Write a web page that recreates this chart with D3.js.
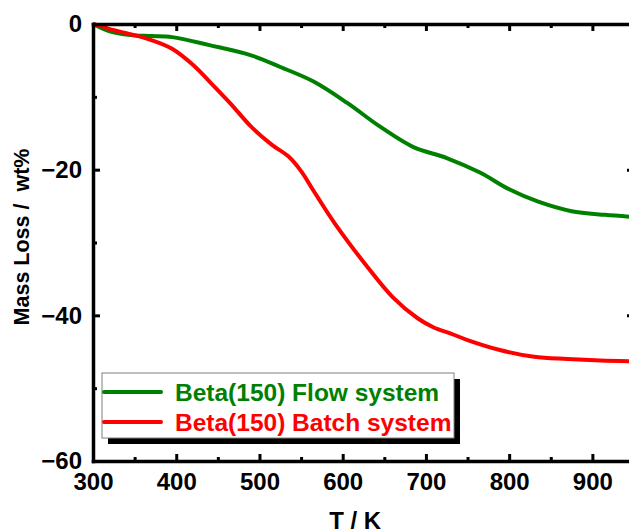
<!DOCTYPE html>
<html>
<head>
<meta charset="utf-8">
<script src="https://cdn.jsdelivr.net/npm/d3@7"></script>
<style>
  body { margin: 0; background: #fff; }
  svg { display: block; font-family: Arial, "Liberation Sans", sans-serif; font-weight: bold; }
</style>
</head>
<body>
<script>
(function (d3) {
    'use strict';

    // series (T in K, mass loss in wt%)
    var flowT    = [300, 320, 345, 370, 395, 440, 490, 525, 565, 605, 645, 685, 725, 765, 800, 835, 875, 915, 950];
    var flowLoss = [0, -1.0, -1.5, -1.65, -1.8, -2.9, -4.3, -5.9, -7.9, -10.8, -14.1, -16.9, -18.4, -20.4, -22.7, -24.4, -25.7, -26.2, -26.5];

    var batchT    = [300, 310, 320, 345, 370, 395, 420, 440, 465, 490, 515, 535, 550, 565, 590, 630, 660, 690, 710, 730, 750, 790, 830, 870, 910, 950];
    var batchLoss = [0, -0.3, -0.7, -1.4, -2.2, -3.4, -5.6, -7.9, -10.9, -14.1, -16.6, -18.2, -20.2, -22.9, -27.3, -33.4, -37.5, -40.4, -41.7, -42.5, -43.4, -44.8, -45.7, -46.0, -46.2, -46.3];

    var seriesNames = ["Beta(150) Flow system", "Beta(150) Batch system"];
    var seriesColors = ["#008000", "#ff0000"];

    var xMajor = [300, 400, 500, 600, 700, 800, 900];
    var xMinor = [350, 450, 550, 650, 750, 850, 950];
    var yMajor = [0, -20, -40, -60];
    var yMinor = [-10, -30, -50];

    const W = 629, H = 531;
    const margin = { top: 24, left: 93 };
    const plotW = 541, plotH = 437;

    var x = d3.scaleLinear().domain([300, 950]).range([0, plotW]);
    var y = d3.scaleLinear().domain([0, -60]).range([0, plotH]);

    var svg = d3.select("body").append("svg")
        .attr("width", W)
        .attr("height", H);

    var g = svg.append("g")
        .attr("transform", "translate(" + margin.left + "," + margin.top + ")");

    var series = [
        { name: seriesNames[0], color: seriesColors[0], pts: flowT.map(function (t, i) { return [t, flowLoss[i]]; }) },
        { name: seriesNames[1], color: seriesColors[1], pts: batchT.map(function (t, i) { return [t, batchLoss[i]]; }) }
    ];

    var line = d3.line()
        .x(function (d) { return x(d[0]); })
        .y(function (d) { return y(d[1]); })
        .curve(d3.curveCatmullRom.alpha(0.5));

    g.selectAll(".curve")
        .data(series)
        .enter().append("path")
        .attr("class", "curve")
        .attr("fill", "none")
        .attr("stroke", function (d) { return d.color; })
        .attr("stroke-width", 4)
        .attr("d", function (d) { return line(d.pts); });

    function styleAxis(sel) {
        sel.select(".domain").attr("stroke", "#000").attr("stroke-width", 3.5).attr("stroke-linecap", "square");
        sel.selectAll(".tick line").attr("stroke", "#000").attr("stroke-width", 3);
        sel.selectAll("text").attr("fill", "#000").attr("font-size", 24).attr("font-weight", "bold")
            .attr("font-family", "Arial, 'Liberation Sans', sans-serif");
    }

    // major axes with labels
    g.append("g")
        .attr("transform", "translate(0," + plotH + ")")
        .call(d3.axisBottom(x).tickValues(xMajor).tickSizeInner(-7).tickSizeOuter(0).tickPadding(12).tickFormat(d3.format("d")))
        .call(styleAxis);

    g.append("g")
        .call(d3.axisLeft(y).tickValues(yMajor).tickSizeInner(-7).tickSizeOuter(0).tickPadding(11).tickFormat(d3.format("d")))
        .call(styleAxis);

    // mirrored axes
    g.append("g")
        .call(d3.axisTop(x).tickValues(xMajor).tickSizeInner(-7).tickSizeOuter(0).tickFormat(""))
        .call(styleAxis);

    g.append("g")
        .attr("transform", "translate(" + plotW + ",0)")
        .call(d3.axisRight(y).tickValues(yMajor).tickSizeInner(-7).tickSizeOuter(0).tickFormat(""))
        .call(styleAxis);

    // minor ticks
    [
        { ax: d3.axisBottom(x).tickValues(xMinor), tr: "translate(0," + plotH + ")" },
        { ax: d3.axisTop(x).tickValues(xMinor), tr: null },
        { ax: d3.axisLeft(y).tickValues(yMinor), tr: null },
        { ax: d3.axisRight(y).tickValues(yMinor), tr: "translate(" + plotW + ",0)" }
    ].forEach(function (m) {
        var a = g.append("g").attr("transform", m.tr)
            .call(m.ax.tickSizeInner(-4).tickSizeOuter(0).tickFormat(""))
            .call(styleAxis);
        a.select(".domain").remove();
    });

    // axis titles
    svg.append("text")
        .attr("x", margin.left + x(615))
        .attr("y", 529)
        .attr("text-anchor", "middle")
        .attr("font-size", 24)
        .text("T / K");

    svg.append("text")
        .attr("transform", "translate(28.5,237) rotate(-90)")
        .attr("text-anchor", "middle")
        .attr("font-size", 21.5)
        .style("white-space", "pre")
        .text("Mass Loss /  wt%");

    // legend with drop shadow
    var lg = svg.append("g").attr("transform", "translate(102,373)");
    lg.append("rect")
        .attr("x", 6).attr("y", 6)
        .attr("width", 352).attr("height", 65)
        .attr("fill", "#000");
    lg.append("rect")
        .attr("x", 0).attr("y", 0)
        .attr("width", 352).attr("height", 65)
        .attr("fill", "#fff")
        .attr("stroke", "#808080")
        .attr("stroke-width", 1);

    var item = lg.selectAll(".item")
        .data(series)
        .enter().append("g")
        .attr("class", "item")
        .attr("transform", function (d, i) { return "translate(0," + (19 + i * 30) + ")"; });

    item.append("line")
        .attr("x1", 2).attr("x2", 59)
        .attr("stroke", function (d) { return d.color; })
        .attr("stroke-width", 4)
        .attr("stroke-linecap", "round");

    item.append("text")
        .attr("x", 73)
        .attr("y", 8.5)
        .attr("font-size", 24.5)
        .attr("fill", function (d) { return d.color; })
        .text(function (d) { return d.name; });

})(d3);
</script>
</body>
</html>
